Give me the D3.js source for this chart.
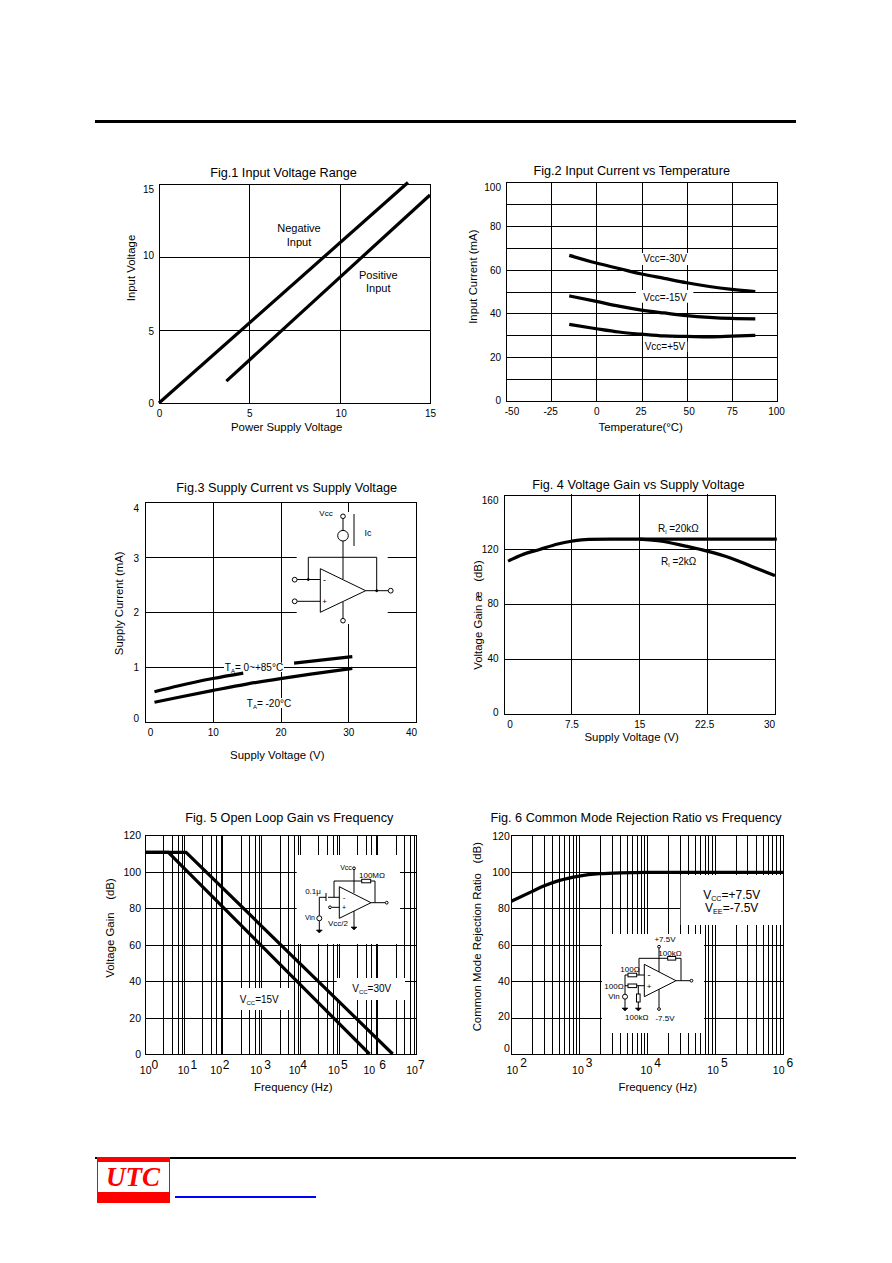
<!DOCTYPE html>
<html><head><meta charset="utf-8">
<script src="https://cdn.jsdelivr.net/npm/d3@7/dist/d3.min.js"></script>
<style>html,body{margin:0;padding:0;background:#fff}svg{display:block}text{font-family:"Liberation Sans",Arial,sans-serif;fill:#000}</style>
</head><body><svg id="page" width="892" height="1263" viewBox="0 0 892 1263"></svg>
<script>
// ---- data ----
const fig1Negative=[[0,0],[13.78,15.1]];
const fig1Positive=[[3.73,1.5],[15,14.25]];
const fig2Temps=[-15,0,12.5,25,37.5,50,62.5,75,88];
const fig2Vcc30=[66.5,63,60.5,58,56,54,52.3,51,50];
const fig2Vcc15=[48,45.5,43.3,41.5,40.2,39,38.2,37.7,37.5];
const fig2Vcc5=[35,33,31.5,30.5,29.7,29.5,29.3,29.6,30];
const fig3HotA=[[1.4,.55],[5,.66],[10,.79],[14.5,.89]];
const fig3HotB=[[22,1.07],[30.6,1.19]];
const fig3Cold=[[1.4,.36],[5,.45],[9.9,.57],[15,.69],[20,.79],[25,.88],[30.6,.975]];
const fig4V20k=[.5,2,4,6,7.5,9.4,15,22.5,30.2];
const fig4G20k=[111.5,116,120,124,126,127.4,127.5,127.5,127.5];
const fig4V2k=[15,17.5,20,22.5,25,27.5,30];
const fig4G2k=[127.5,126,122.6,118.8,114,107.4,101];
const fig5V30=[[1,110.5],[11.5,110.5],[2.5e6,0]];
const fig5V15=[[1,110.5],[4,110.5],[6.3e5,0]];
const fig6Freq=[100,200,300,500,1000,2000,4000,1e4,1e5,1e6];
const fig6Cmrr=[83.7,89,92,95,97.5,98.8,99.3,99.5,99.5,99.5];
const fig5Decades=[0,1,2,3,4,5,6,7];
const fig5Minor=[3,5,7,9];
const fig6Decades=[2,3,4,5,6];
const fig6Minor=[2,3,4,5,6,7,8,9];

const svg=d3.select('#page');
function label(g,cx,cy,str,size,opt={}){
  const t=g.append('text').attr('x',cx).attr('y',cy+size*.35).attr('text-anchor',opt.anchor||'middle').attr('font-size',size);
  if(opt.rotate) t.attr('transform',`rotate(-90 ${cx} ${cy})`);
  let pendingDy=0;
  str.split(/(_\{[^}]*\})/).filter(Boolean).forEach(p=>{
    if(p[0]==='_'&&p[1]==='{'){
      t.append('tspan').attr('font-size',size*.6).attr('dy',2).text(p.slice(2,-1));
      pendingDy=-2;
    } else {
      const s=t.append('tspan').text(p);
      if(pendingDy){s.attr('dy',pendingDy);pendingDy=0;}
    }
  });
  return t;
}
function chart(c){
  const g=svg.append('g');
  const [L,R,T,B]=c.box;
  const x=(c.log?d3.scaleLog():d3.scaleLinear()).domain(c.xd).range([L,R]);
  const y=d3.scaleLinear().domain(c.yd).range([B,T]);
  const gx=g.append('g').attr('transform',`translate(0,${B})`)
    .call(d3.axisBottom(x).tickValues(c.xGrid).tickSize(-(B-T)).tickFormat(''));
  const gy=g.append('g').attr('transform',`translate(${L},0)`)
    .call(d3.axisLeft(y).tickValues(c.yGrid).tickSize(-(R-L)).tickFormat(''));
  [gx,gy].forEach(a=>{a.select('.domain').remove();a.selectAll('line').attr('stroke','#000').attr('shape-rendering','crispEdges');});
  (c.masks||[]).forEach(m=>g.append('rect').attr('x',m[0]).attr('y',m[1]).attr('width',m[2]-m[0]).attr('height',m[3]-m[1]).attr('fill','#fff'));
  g.append('rect').attr('x',L+.5).attr('y',T+.5).attr('width',R-L).attr('height',B-T).attr('fill','none').attr('stroke','#000').attr('shape-rendering','crispEdges');
  const xl=g.append('g').attr('transform',`translate(0,${B})`)
    .call(d3.axisBottom(x).tickValues(c.xLab).tickSize(0).tickPadding(0).tickFormat(c.log?()=>'':d=>d));
  const yl=g.append('g').attr('transform',`translate(${L},0)`)
    .call(d3.axisLeft(y).tickValues(c.yLab).tickSize(0).tickPadding(c.yPad).tickFormat(d=>d));
  [xl,yl].forEach(a=>{a.select('.domain').remove();a.attr('font-family',null).attr('font-size',null);a.selectAll('text').attr('font-size',c.tick);});
  xl.selectAll('text').attr('dy',null).attr('y',c.xTickY-B+c.tick*.35).each(function(d,i){d3.select(this).attr('dx',(c.xNudge||[])[i]||0);});
  yl.selectAll('text').attr('dy',c.tick*.35).each(function(d,i){d3.select(this).attr('y',(c.yNudge||[])[i]||0);});
  if(c.log){
    xl.selectAll('text').each(function(d,i){
      const t=d3.select(this);t.text('').attr('text-anchor','start').attr('dx',c.logDx[i]);
      t.append('tspan').text('10');
      t.append('tspan').attr('dx',c.expDx[i]).attr('dy',c.expDy).attr('font-size',12).text(Math.round(Math.log10(d)));
    });
  }
  c.series.forEach(s=>{
    const ln=d3.line().x(d=>x(d[0])).y(d=>y(d[1])).curve(s.length>2&&c.smooth?d3.curveMonotoneX:d3.curveLinear);
    g.append('path').datum(s).attr('d',ln).attr('fill','none').attr('stroke','#000').attr('stroke-width',c.sw||3.2);
  });
  label(g,c.title[0],c.title[1],c.title[2],12.7);
  label(g,c.xTitle[0],c.xTitle[1],c.xTitle[2],11.4);
  label(g,c.yTitle[0],c.yTitle[1],c.yTitle[2],11.4,{rotate:true}).style('white-space','pre');
  (c.notes||[]).forEach(n=>label(g,n[0],n[1],n[2],n[3]||10));
  return g;
}
const zip=(a,b)=>a.map((v,i)=>[v,b[i]]);
const logTicks=(dec,minor)=>dec.flatMap((e,i)=>[10**e,...(i<dec.length-1?minor.map(m=>m*10**e):[])]);
const seq=(...v)=>v;

chart({box:[159,430,184,403],xd:[0,15],yd:[0,15],xGrid:seq(5,10),yGrid:seq(5,10),xLab:seq(0,5,10,15),yLab:seq(0,5,10,15),
  tick:10,yPad:5,xTickY:413,xNudge:[0,0,1,0],yNudge:[0,1,-2,5],
  series:[fig1Negative,fig1Positive],
  title:[283.5,172.7,'Fig.1 Input Voltage Range'],xTitle:[286.7,426.7,'Power Supply Voltage'],yTitle:[130.7,268,'Input Voltage'],
  notes:[[299,227.7,'Negative',11],[299,241.7,'Input',11],[378.3,275,'Positive',11],[378.3,288.3,'Input',11]]});

chart({box:[506,777,182,401],xd:[-50,100],yd:[0,100],xGrid:seq(-25,0,25,50,75),yGrid:d3.range(10,100,10),xLab:seq(-50,-25,0,25,50,75,100),yLab:seq(0,20,40,60,80,100),
  tick:10,yPad:5,xTickY:411.7,xNudge:[5.5,-1,0,-1,2,0,-1],yNudge:[-1,0,0,0,0,5],smooth:true,
  masks:[[640.7,253,689.3,265],[636,290,693.3,302.7],[643.3,341.7,687.3,352]],
  series:[zip(fig2Temps,fig2Vcc30),zip(fig2Temps,fig2Vcc15),zip(fig2Temps,fig2Vcc5)],
  title:[631.7,171,'Fig.2 Input Current vs Temperature'],xTitle:[640.7,427.3,'Temperature(\u00b0C)'],yTitle:[472.7,276.7,'Input Current (mA)'],
  notes:[[665,258,'Vcc=-30V',10],[665,297,'Vcc=-15V',10],[665,346.7,'Vcc=+5V',10]]});

chart({box:[145,416,502,722],xd:[0,40],yd:[0,4],xGrid:seq(10,20,30),yGrid:seq(1,2,3),xLab:seq(0,10,20,30,40),yLab:seq(0,1,2,3,4),
  tick:10,yPad:6,xTickY:732.3,xNudge:[5,0,0,0,-5],yNudge:[-4,0,0,1,6],smooth:true,
  masks:[[224,662.7,284,672],[245,698,293.3,708],[296.7,512,387.7,624]],
  series:[fig3HotA,fig3HotB,fig3Cold],
  title:[286.7,487.7,'Fig.3 Supply Current vs Supply Voltage'],xTitle:[277.3,755,'Supply Voltage (V)'],yTitle:[119.3,603.3,'Supply Current (mA)'],
  notes:[[254,667,'T_{A}= 0~+85\u00b0C',10],[269,703,'T_{A}= -20\u00b0C',10]]});

chart({box:[503.5,775,494.5,714.3],xd:[0,30],yd:[0,160],xGrid:seq(7.5,15,22.5),yGrid:seq(40,80,120),xLab:seq(0,7.5,15,22.5,30),yLab:seq(0,40,80,120,160),
  tick:10,yPad:5,xTickY:725,xNudge:[6,0,0,-3,-6],yNudge:[-2,-1,-1,0,5],smooth:true,
  series:[zip(fig4V20k,fig4G20k),zip(fig4V2k,fig4G2k)],
  title:[638.3,485,'Fig. 4 Voltage Gain vs Supply Voltage'],xTitle:[631.7,736.7,'Supply Voltage (V)'],yTitle:[477.7,615,'Voltage Gain \u00e6   (dB)'],
  notes:[[678.3,528.3,'R_{l} =20k\u03a9',10],[678.7,561.7,'R_{l} =2k\u03a9',10]]});

chart({box:[145,416,835,1054],log:true,xd:[1,1e7],yd:[0,120],xGrid:logTicks(fig5Decades,fig5Minor),yGrid:d3.range(20,120,20),xLab:fig5Decades.map(e=>10**e),yLab:d3.range(0,121,20),
  tick:10.5,yPad:4,xTickY:1070.7,logDx:[-5.7,-6.5,-12.6,-11.3,-11.7,-11,-14.3,-10.3],expDx:[0,1,.7,2.3,0,1.3,4,0],expDy:-5,
  masks:[[296.7,855,400,944],[336.7,978,405,1000],[223,988,290,1010]],
  series:[fig5V30,fig5V15],
  title:[289.3,817.3,'Fig. 5 Open Loop Gain vs Frequency'],xTitle:[293.3,1087.3,'Frequency (Hz)'],yTitle:[110,928,'Voltage Gain    (dB)'],
  notes:[[259.3,999,'V_{CC}=15V',10],[371.7,988.3,'V_{CC}=30V',10]]});

chart({box:[511.3,783,835,1054],log:true,xd:[100,1e6],yd:[0,120],xGrid:logTicks(fig6Decades,fig6Minor),yGrid:d3.range(20,120,20),xLab:fig6Decades.map(e=>10**e),yLab:d3.range(0,121,20),
  tick:10.5,yPad:1.5,xTickY:1070.7,logDx:[-5.3,-7.7,-7.1,-8.3,-10.7],expDx:[2,2,2,2,2],expDy:-7,yNudge:[-6,-2,0,0,0,0,1],smooth:true,
  masks:[[680.7,875,783,925],[602,934,704,1033]],
  series:[zip(fig6Freq,fig6Cmrr)],
  title:[636,817.3,'Fig. 6 Common Mode Rejection Ratio vs Frequency'],xTitle:[657.7,1087.3,'Frequency (Hz)'],yTitle:[477.3,936.7,'Common Mode Rejection Ratio   (dB)'],
  notes:[[731.7,894.3,'V_{CC}=+7.5V',12],[731.7,907.8,'V_{EE}=-7.5V',12]]});

// ---- op-amp schematics (annotation drawings) ----
function wires(g,list,w=1){list.forEach(p=>g.append('polyline').attr('points',p.join(' ')).attr('fill','none').attr('stroke','#000').attr('stroke-width',w));}
function circles(g,list){list.forEach(c=>g.append('circle').attr('cx',c[0]).attr('cy',c[1]).attr('r',c[2]).attr('fill',c[3]||'#fff').attr('stroke','#000'));}
function rects(g,list){list.forEach(r=>g.append('rect').attr('x',r[0]).attr('y',r[1]).attr('width',r[2]).attr('height',r[3]).attr('fill','#fff').attr('stroke','#000'));}
function grounds(g,list){list.forEach(p=>{g.append('path').attr('d',`M${p[0]-3},${p[1]}H${p[0]+3}L${p[0]},${p[1]+3}Z`).attr('fill','#000').attr('stroke','#000').attr('stroke-width',.6);});}
const c3=svg.append('g');
wires(c3,[[[320.3,568.7],[320.3,612.3],[365.7,590.7],[320.3,568.7]],
 [[343,519],[343,530]],[[343,541],[343,579]],[[354,514],[354,546]],
 [[308.3,579.5],[308.3,557.3],[376.7,557.3],[376.7,590.7]],
 [[297,579.5],[320.3,579.5]],[[297,601.3],[320.3,601.3]],[[365.7,590.7],[388,590.7]],[[343,602],[343,618]]]);
circles(c3,[[343,516.3,2.3],[343,535.7,5.3],[294.7,579.7,2.4],[294.7,601.3,2.4],[390.7,590.7,2.4],[343,620.7,2.3],[308.3,579.5,1,'#000'],[376.7,590.7,1,'#000']]);
label(c3,326,513,'Vcc',8);label(c3,368,533,'Ic',9);label(c3,324.5,579.5,'-',9);label(c3,324.5,601.5,'+',8);

const c5=svg.append('g');
wires(c5,[[[339.3,886.7],[339.3,918.3],[371,902.7],[339.3,886.7]],
 [[354,870],[354,893]],[[334,897.3],[334,881],[375,881],[375,902.7]],[[339.3,897.3],[328,897.3]],
 [[326,893],[326,901]],[[326,897.3],[319.3,897.3],[319.3,916]],[[319.3,921],[319.3,930]],
 [[332,907.3],[339.3,907.3]],[[371,902.7],[385,902.7]],[[354,911],[354,927]]]);
rects(c5,[[361.7,879.3,9,3.5]]);
circles(c5,[[354,868.3,1.4],[319.3,918.3,2.5],[330,907.3,1.4],[386.7,902.7,1.4]]);
grounds(c5,[[319.3,930],[354,927]]);
label(c5,313,891,'0.1\u03bc',8);label(c5,372,875,'100M\u03a9',8);label(c5,346,868,'Vcc',7);label(c5,310,918,'Vin',7);label(c5,338,923.3,'Vcc/2',8);
label(c5,344,897.5,'-',8);label(c5,344,907.5,'+',7);

const c6=svg.append('g');
wires(c6,[[[644.3,964.3],[644.3,996.7],[676,980.7],[644.3,964.3]],
 [[659,948],[659,972]],[[639,975],[639,958.3],[681,958.3],[681,980.7]],[[625,975],[644.3,975]],[[625,985.7],[644.3,985.7]],
 [[625,975],[625,994]],[[625,999],[625,1008]],[[638.3,985.7],[638.3,1008]],[[659,989],[659,1007]],[[676,980.7],[690,980.7]]]);
rects(c6,[[667.7,956.5,8,3.6],[628,973.2,8.7,3.6],[628,984,8.7,3.6],[636.5,994,3.6,8]]);
circles(c6,[[659,946.7,1.4],[625,996.7,2.5],[659,1009,1.4],[691.5,980.7,1.4]]);
grounds(c6,[[625,1008],[638.3,1008]]);
label(c6,665,939,'+7.5V',8);label(c6,670,953,'100k\u03a9',8);label(c6,630,969,'100\u03a9',8);label(c6,614,985.7,'100\u03a9',8);label(c6,614,996,'Vin',8);label(c6,636.7,1016.7,'100k\u03a9',8);label(c6,665,1018,'-7.5V',8);
label(c6,649,975,'-',9);label(c6,649,986,'+',8);

// ---- page furniture ----
const furn=svg.append('g').attr('shape-rendering','crispEdges');
furn.append('rect').attr('x',95).attr('y',120).attr('width',701).attr('height',3).attr('fill','#000');
furn.append('rect').attr('x',95).attr('y',1157).attr('width',701).attr('height',2).attr('fill','#000');
furn.append('rect').attr('x',97).attr('y',1157).attr('width',73).attr('height',46).attr('fill','#f00');
furn.append('rect').attr('x',98).attr('y',1162).attr('width',71).attr('height',30).attr('fill','#fff');
furn.append('rect').attr('x',175).attr('y',1196).attr('width',141).attr('height',2).attr('fill','#00f');
svg.append('text').attr('x',133).attr('y',1186).attr('text-anchor','middle').attr('font-size',27).attr('font-weight','bold').attr('font-style','italic').style('font-family','"Liberation Serif",serif').style('fill','#f00').text('UTC');
</script></body></html>
